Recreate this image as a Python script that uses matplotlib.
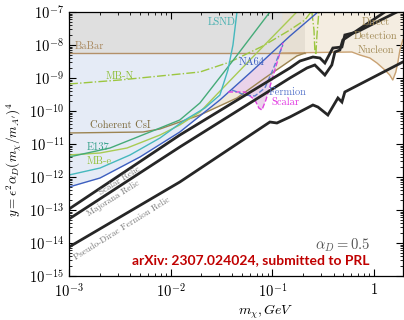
import numpy as np
import matplotlib
matplotlib.use('Agg')
import matplotlib.pyplot as plt

plt.rcParams['font.family'] = ['cmr10']
plt.rcParams['mathtext.fontset'] = 'cm'
plt.rcParams['axes.unicode_minus'] = False
plt.rcParams['axes.formatter.use_mathtext'] = True

# --- data (m_chi in GeV, y dimensionless) ---
babar_y = 5.72e-9
babar_m = [1e-3, 0.209]

na64_m = [1e-3, 2.02e-3, 4.99e-3, 1.23e-2, 3.05e-2, 6.02e-2, 0.149, 0.281]
na64_y = [4.98e-13, 9.33e-13, 4.04e-12, 2.31e-11, 2.16e-10, 1.42e-9, 1.87e-8, 1e-7]

lsnd_m = [1e-3, 2.02e-3, 3.98e-3, 7.85e-3, 1.38e-2, 2.17e-2, 3.05e-2, 3.66e-2, 4.10e-2, 4.49e-2]
lsnd_y = [1.15e-12, 1.87e-12, 4.64e-12, 1.52e-11, 5.34e-11, 1.23e-10, 3.05e-10, 1.75e-9, 1.0e-8, 1e-7]

e137_m = [1e-3, 2.53e-3, 7.85e-3, 1.23e-2, 1.94e-2, 4.29e-2, 9.47e-2]
e137_y = [4.04e-12, 7.56e-12, 3.05e-11, 5.34e-11, 1.75e-10, 4.04e-9, 1e-7]

mbe_m = [1e-3, 2.02e-3, 3.72e-3, 7.85e-3, 1.23e-2, 1.94e-2, 6.02e-2, 0.174]
mbe_y = [4.64e-12, 5.34e-12, 7.56e-12, 1.87e-11, 3.77e-11, 9.33e-11, 3.51e-9, 1e-7]

csi_m = [1e-3, 5.34e-3, 7.85e-3, 1.23e-2, 1.94e-2, 4.49e-2, 8.45e-2, 0.174, 0.209]
csi_y = [2.16e-11, 2.31e-11, 2.85e-11, 4.64e-11, 7.56e-11, 2.48e-10, 1.0e-9, 4.64e-9, 5.72e-9]

mbn_m = [1e-3, 3.17e-3, 7.85e-3, 1.94e-2, 3.83e-2, 8.08e-2, 0.149, 0.209, 0.240]
mbn_y = [6.58e-10, 8.70e-10, 1.15e-9, 1.52e-9, 3.05e-9, 9.33e-9, 2.85e-8, 5.72e-8, 1e-7]
mbn_dip_m = [0.245, 0.257, 0.262, 0.268, 0.275, 0.287]
mbn_dip_y = [1e-7, 2.85e-8, 7.05e-9, 4.98e-9, 2.01e-8, 1e-7]

scalar_na64_m = [3.66e-2, 5.38e-2, 6.74e-2, 7.38e-2, 7.90e-2, 8.65e-2, 9.91e-2, 0.127]
scalar_na64_y = [3.77e-10, 3.77e-10, 2.16e-10, 1.23e-10, 1.07e-10, 2.16e-10, 8.70e-10, 1.15e-8]
fermion_na64_m = [4.01e-2, 5.38e-2, 6.74e-2, 8.45e-2, 9.91e-2, 0.127]
fermion_na64_y = [4.33e-10, 3.05e-10, 2.85e-10, 4.98e-10, 1.52e-9, 1.0e-8]

dd_m = [0.124, 0.606, 0.727, 0.911, 1.07, 1.28, 1.43, 1.53, 1.64, 1.72, 1.80, 1.92]
dd_y = [5.72e-9, 6.14e-9, 4.98e-9, 4.04e-9, 2.85e-9, 1.75e-9, 1.23e-9, 8.70e-10, 1.52e-9, 3.05e-9, 7.05e-9, 1.42e-8]

scalar_relic_m = [1e-3, 1.23e-2, 0.149, 0.187, 0.251, 0.294, 0.329, 0.394, 0.484, 0.517, 0.679, 1.68, 1.95]
scalar_relic_y = [1.07e-13, 1.87e-11, 2.01e-9, 3.27e-9, 4.33e-9, 4.04e-9, 2.85e-9, 8.11e-9, 8.70e-9, 2.01e-8, 2.48e-8, 1e-7, 1.3e-7]
majorana_relic_m = [1e-3, 1.23e-2, 0.149, 0.219, 0.262, 0.329, 0.385, 0.413, 0.462, 0.494, 1.28, 1.95]
majorana_relic_y = [5.34e-14, 8.11e-12, 1.0e-9, 2.01e-9, 2.48e-9, 1.23e-9, 2.48e-9, 6.14e-9, 7.05e-9, 1.42e-8, 1e-7, 2.5e-7]
dirac_relic_m = [1e-3, 1.23e-2, 9.47e-2, 0.111, 0.149, 0.251, 0.281, 0.352, 0.442, 0.484, 0.517, 1.92]
dirac_relic_y = [7.56e-15, 7.05e-13, 4.64e-11, 4.33e-11, 6.58e-11, 1.52e-10, 1.32e-10, 7.56e-11, 2.48e-10, 1.87e-10, 3.77e-10, 3.05e-9]

y_top = 1e-7
x_lim = (1e-3, 1.93)


def loginterp(x_new, xs, ys):
    return 10 ** np.interp(np.log10(x_new), np.log10(xs), np.log10(ys))


fig = plt.figure(figsize=(4.04, 3.2), dpi=100)
ax = fig.add_axes([0.1708, 0.1375, 0.8267, 0.825])
ax.set_xscale('log')
ax.set_yscale('log')

# coherent CsI excluded (tan)
xc = np.logspace(np.log10(1.94e-2), np.log10(0.209), 200)
ax.fill_between(xc, loginterp(xc, csi_m, csi_y), babar_y, color='#f1e9da', lw=0)

# blue excluded region above NA64 envelope
xb = np.logspace(-3, np.log10(0.2), 400)
lower = np.minimum(loginterp(xb, na64_m, na64_y), babar_y)
ax.fill_between(xb, lower, babar_y, color='#e5ebf6', lw=0)

# NA64 scalar / fermion pocket (pink)
xs_poly = np.concatenate([scalar_na64_m, scalar_na64_m[::-1]])
ys_poly = np.concatenate([scalar_na64_y, loginterp(np.array(scalar_na64_m[::-1]), na64_m, na64_y)])
ax.fill(xs_poly, ys_poly, color='#ead3ea', lw=0)

# BaBar (grey) and direct detection (beige)
ax.fill_between(babar_m, babar_y, y_top, color='#dfdfdf', lw=0)
ax.fill_between(dd_m, dd_y, y_top, color='#ecdfca', alpha=0.55, lw=0)

# experiment lines
ax.plot(babar_m, [babar_y, babar_y], color='#b39069', lw=1.0)
ax.plot(dd_m, dd_y, color='#c9a273', lw=1.0)
ax.plot(mbn_m, mbn_y, color='#9cc640', lw=1.0, ls='-.')
ax.plot(mbn_dip_m, mbn_dip_y, color='#9cc640', lw=1.0, ls='-.')
ax.plot(csi_m, csi_y, color='#9c8452', lw=1.0)
ax.plot(mbe_m, mbe_y, color='#a9cb52', lw=1.0)
ax.plot(e137_m, e137_y, color='#45ab78', lw=1.0)
ax.plot(lsnd_m, lsnd_y, color='#45b8bd', lw=1.0)
ax.plot(na64_m, na64_y, color='#3d5fc0', lw=1.0)
ax.plot(scalar_na64_m, scalar_na64_y, color='#e040e0', lw=1.0, ls='--')
ax.plot(fermion_na64_m, fermion_na64_y, color='#6080d0', lw=1.0, ls='--')

# relic targets
for m, y in [(scalar_relic_m, scalar_relic_y), (majorana_relic_m, majorana_relic_y),
             (dirac_relic_m, dirac_relic_y)]:
    ax.plot(m, y, color='#262626', lw=2.0, solid_joinstyle='miter')

ax.set_xlim(*x_lim)
ax.set_ylim(1e-15, y_top)

ax.set_xticks([1e-3, 1e-2, 1e-1, 1])
ax.set_xticklabels([r'$10^{-3}$', r'$10^{-2}$', r'$10^{-1}$', r'$1$'])
ax.set_yticks([10.0 ** k for k in range(-15, -6)])
ax.tick_params(which='both', direction='in', top=True, right=True, labelsize=10.5)
ax.tick_params(which='major', length=5, width=0.8)
ax.tick_params(which='minor', length=2.5, width=0.6)
ax.tick_params(axis='x', which='major', pad=4)
for s in ax.spines.values():
    s.set_linewidth(0.9)

ax.set_ylabel(r'$y = \epsilon^2\alpha_D(m_\chi/m_{A^\prime})^4$', fontsize=9.5)
ax.yaxis.set_label_coords(-0.135, 0.44)
ax.set_xlabel(r'$m_\chi, GeV$', fontsize=10)
ax.xaxis.set_label_coords(0.59, -0.102)

tr = ax.transAxes
lab = dict(transform=tr, fontsize=7.5, ha='center', va='center')
ax.text(0.018, 0.871, 'BaBar', color='#a9885e', ha='left', va='center', transform=tr, fontsize=7.5)
ax.text(0.153, 0.758, 'MB-N', color='#8fbf3a', **lab)
ax.text(0.458, 0.962, 'LSND', color='#45b0b0', **lab)
ax.text(0.548, 0.811, 'NA64', color='#3d5fc0', **lab)
ax.text(0.153, 0.572, 'Coherent CsI', color='#7d6a3c', **lab)
ax.text(0.087, 0.489, 'E137', color='#35a08a', **lab)
ax.text(0.09, 0.436, 'MB-e', color='#94c23a', **lab)
ax.text(0.656, 0.697, 'Fermion', color='#5a78cc', **lab)
ax.text(0.647, 0.659, 'Scalar', color='#e030e0', **lab)
ax.text(0.919, 0.962, 'Direct', color='#a38c58', **lab)
ax.text(0.919, 0.909, 'Detection', color='#a38c58', **lab)
ax.text(0.919, 0.856, 'Nucleon', color='#a38c58', **lab)

rel = dict(transform=tr, fontsize=6.5, ha='center', va='center', color='#7a7a7a',
           rotation=32, rotation_mode='anchor')
ax.text(0.153, 0.362, 'Scalar Relic', **rel)
ax.text(0.132, 0.292, 'Majorana Relic', **rel)
ax.text(0.159, 0.178, 'Pseudo-Dirac Fermion Relic', **rel)

ax.text(0.82, 0.117, r'$\alpha_D = 0.5$', transform=tr, fontsize=10.5, ha='center',
        va='center', color='#555555')
ax.text(0.545, 0.061, 'arXiv: 2307.024024, submitted to PRL', transform=tr,
        fontsize=10, ha='center', va='center', color='#c00000', fontweight='bold',
        family=['Lato', 'DejaVu Sans'])

fig.savefig('out.png', dpi=100)
